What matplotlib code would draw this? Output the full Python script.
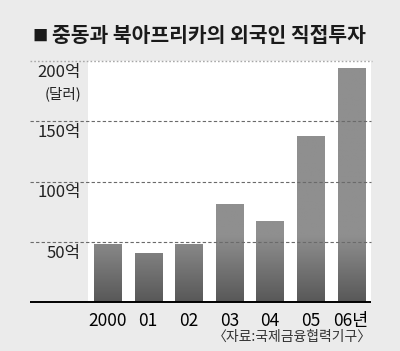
import matplotlib.pyplot as plt
import numpy as np
from matplotlib.colors import LinearSegmentedColormap

plt.rcParams['font.family'] = ['Noto Sans CJK KR', 'DejaVu Sans']

years = ["2000", "01", "02", "03", "04", "05", "06년"]
values = [48, 41, 48, 81, 67, 138, 194]
grid_vals = [50, 100, 150, 200]
grid_labels = ["50억", "100억", "150억", "200억"]

bg = "#ebebeb"
fig = plt.figure(figsize=(4.0, 3.51), dpi=100, facecolor=bg)
ax = fig.add_axes([88 / 400, 49 / 351, 283 / 400, 241 / 351])
ax.set_facecolor("white")

x = np.arange(len(years))
bars = ax.bar(x, values, width=0.667, color="#8f8f8f", zorder=2)

# darker gradient towards the bottom of the bars
cmap = LinearSegmentedColormap.from_list("g", ["#585858", "#8f8f8f"])
ys = np.linspace(0, 200, 400)
grad = np.clip(ys / 55, 0, 1)[::-1].reshape(-1, 1)
for b in bars:
    im = ax.imshow(grad, cmap=cmap, vmin=0, vmax=1, aspect="auto",
                   extent=[b.get_x(), b.get_x() + b.get_width(), 0, 200],
                   zorder=3)
    im.set_clip_path(b)

ax.set_xlim(-0.48, 6.49)
ax.set_ylim(0, 200)
ax.set_yticks([])
ax.set_xticks(x, years, fontsize=12.5)
ax.tick_params(axis="x", length=0, pad=7)
for s in ax.spines.values():
    s.set_visible(False)

left = (30 - 88) / 283
ytr = ax.get_yaxis_transform()
for v, lab in zip(grid_vals, grid_labels):
    if v == 200:
        ax.hlines(v, left, 1.005, transform=ytr, color="#a8a8a8", lw=1,
                  linestyles=(0, (1.2, 1.5)), clip_on=False, zorder=4)
    else:
        ax.hlines(v, left, 1.0, transform=ytr, color="#6a6a6a", lw=0.8,
                  linestyles=(0, (3, 2)), clip_on=False, zorder=4)
    ax.text(-0.025, v - 9.5, lab, transform=ytr, ha="right", va="center",
            fontsize=12, color="#222222")
ax.text(-0.025, 173, "(달러)", transform=ytr, ha="right", va="center",
        fontsize=10.5, color="#222222")

ax.hlines(0, left, 1.0, transform=ytr, color="black", lw=1.4,
          clip_on=False, zorder=5)

fig.text(32 / 400, 1 - 36 / 351, "■", ha="left", va="center",
         fontsize=11, color="#1a1a1a")
fig.text(52 / 400, 1 - 35 / 351, "중동과 북아프리카의 외국인 직접투자",
         ha="left", va="center", fontsize=14.7, fontweight="bold", color="#1a1a1a")
fig.text(372 / 400, 1 - 337 / 351, "〈자료:국제금융협력기구〉",
         ha="right", va="center", fontsize=10, color="#333333")

fig.savefig("out.png", dpi=100, facecolor=bg)
